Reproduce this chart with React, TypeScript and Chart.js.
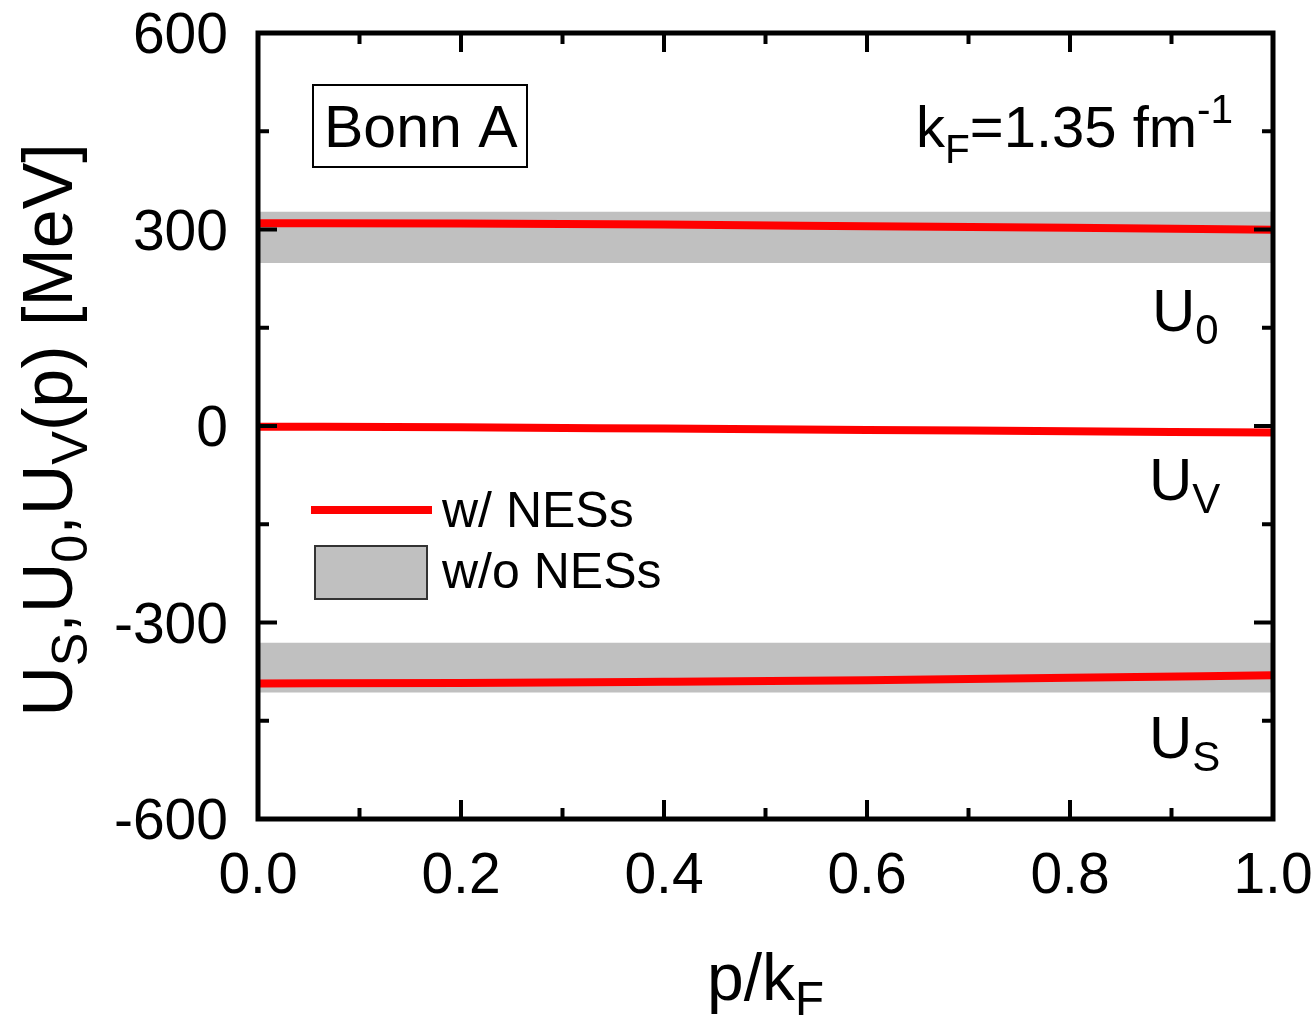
import React, { useEffect, useRef } from "react";
import { Chart, registerables } from "chart.js";

Chart.register(...registerables);

// Momentum grid p/kF
const P_GRID = [0, 0.2, 0.4, 0.6, 0.8, 1.0];

// Self-energy components with NESs (MeV)
const U0_WITH = [309.5, 309, 307.5, 305, 302.5, 299.5];
const UV_WITH = [-1, -2, -4, -6, -8, -10];
const US_WITH = [-393, -392.5, -390.5, -388, -384.5, -380.5];

// Ranges without NESs (MeV): [lower, upper]
const U0_BAND = [249, 327];
const US_BAND = [-407, -331];

// Axis ticks
const X_MAJOR = [0, 0.2, 0.4, 0.6, 0.8, 1.0];
const X_MINOR = [0.1, 0.3, 0.5, 0.7, 0.9];
const X_LABELS = ["0.0", "0.2", "0.4", "0.6", "0.8", "1.0"];
const Y_MAJOR = [-600, -300, 0, 300, 600];
const Y_MINOR = [-450, -150, 150, 450];
const Y_LABELS = ["-600", "-300", "0", "300", "600"];

const FONT = '"Liberation Sans", Arial, Helvetica, sans-serif';

type Part = { t: string; sub?: boolean; sup?: boolean };

function drawRich(
  ctx: CanvasRenderingContext2D,
  x: number,
  y: number,
  parts: Part[],
  size: number,
  align: "left" | "center" | "right",
  subScale = 0.7,
  subDrop = 0.25,
  supRise = 0.38
) {
  const measure = (p: Part) => {
    const s = p.sub || p.sup ? size * subScale : size;
    ctx.font = `${s}px ${FONT}`;
    return ctx.measureText(p.t).width;
  };
  const total = parts.reduce((a, p) => a + measure(p), 0);
  let cx = align === "left" ? x : align === "center" ? x - total / 2 : x - total;
  ctx.textAlign = "left";
  ctx.textBaseline = "alphabetic";
  for (const p of parts) {
    const s = p.sub || p.sup ? size * subScale : size;
    ctx.font = `${s}px ${FONT}`;
    const dy = p.sub ? size * subDrop : p.sup ? -size * supRise : 0;
    ctx.fillText(p.t, cx, y + dy);
    cx += ctx.measureText(p.t).width;
  }
}

const decorPlugin = {
  id: "decor",
  afterDatasetsDraw(chart: any) {
    const { ctx, chartArea, scales } = chart;
    const xs = scales.x;
    const ys = scales.y;
    const { left, right, top, bottom } = chartArea;
    ctx.save();
    ctx.fillStyle = "#000";
    ctx.strokeStyle = "#000";

    // inward ticks on all four sides
    ctx.lineWidth = 4;
    const tick = (x1: number, y1: number, x2: number, y2: number) => {
      ctx.beginPath();
      ctx.moveTo(x1, y1);
      ctx.lineTo(x2, y2);
      ctx.stroke();
    };
    X_MAJOR.forEach((v) => {
      const px = xs.getPixelForValue(v);
      tick(px, bottom, px, bottom - 19);
      tick(px, top, px, top + 19);
    });
    X_MINOR.forEach((v) => {
      const px = xs.getPixelForValue(v);
      tick(px, bottom, px, bottom - 11);
      tick(px, top, px, top + 11);
    });
    Y_MAJOR.forEach((v) => {
      const py = ys.getPixelForValue(v);
      tick(left, py, left + 19, py);
      tick(right, py, right - 19, py);
    });
    Y_MINOR.forEach((v) => {
      const py = ys.getPixelForValue(v);
      tick(left, py, left + 11, py);
      tick(right, py, right - 11, py);
    });

    // frame
    ctx.lineWidth = 5;
    ctx.strokeRect(left, top, right - left, bottom - top);

    // tick labels
    ctx.font = `57px ${FONT}`;
    ctx.textAlign = "right";
    ctx.textBaseline = "alphabetic";
    Y_MAJOR.forEach((v, i) => {
      const py = ys.getPixelForValue(v);
      ctx.fillText(Y_LABELS[i], 228, py + 20);
    });
    ctx.textAlign = "center";
    X_MAJOR.forEach((v, i) => {
      const px = xs.getPixelForValue(v);
      ctx.fillText(X_LABELS[i], px, 893);
    });

    // axis titles
    drawRich(ctx, (left + right) / 2, 1000, [{ t: "p/k" }, { t: "F", sub: true }], 66, "center", 0.72, 0.22);
    ctx.save();
    ctx.translate(72, 430);
    ctx.rotate(-Math.PI / 2);
    drawRich(
      ctx,
      0,
      0,
      [
        { t: "U" },
        { t: "S", sub: true },
        { t: ",U" },
        { t: "0", sub: true },
        { t: ",U" },
        { t: "V", sub: true },
        { t: "(p) [MeV]" },
      ],
      70,
      "center",
      0.72,
      0.22
    );
    ctx.restore();

    // model label box
    ctx.lineWidth = 2;
    ctx.strokeRect(313, 85, 214, 82);
    ctx.font = `59px ${FONT}`;
    ctx.textAlign = "left";
    ctx.fillText("Bonn A", 324, 147);

    // Fermi momentum
    drawRich(
      ctx,
      916,
      147,
      [{ t: "k" }, { t: "F", sub: true }, { t: "=1.35 fm" }, { t: "-1", sup: true }],
      58,
      "left",
      0.7,
      0.27,
      0.42
    );

    // curve labels
    drawRich(ctx, 1152, 331, [{ t: "U" }, { t: "0", sub: true }], 60, "left", 0.7, 0.22);
    drawRich(ctx, 1149, 500, [{ t: "U" }, { t: "V", sub: true }], 60, "left", 0.7, 0.22);
    drawRich(ctx, 1149, 758, [{ t: "U" }, { t: "S", sub: true }], 60, "left", 0.7, 0.22);

    // legend
    ctx.strokeStyle = "#ff0000";
    ctx.lineWidth = 8;
    ctx.lineCap = "butt";
    ctx.beginPath();
    ctx.moveTo(311, 510);
    ctx.lineTo(432, 510);
    ctx.stroke();
    ctx.fillStyle = "#c0c0c0";
    ctx.fillRect(315, 546, 112, 53);
    ctx.strokeStyle = "#333";
    ctx.lineWidth = 2;
    ctx.strokeRect(315, 546, 112, 53);
    ctx.fillStyle = "#000";
    ctx.font = `50px ${FONT}`;
    ctx.textAlign = "left";
    ctx.fillText("w/ NESs", 442, 527);
    ctx.fillText("w/o NESs", 442, 588);

    ctx.restore();
  },
};

const pts = (ys: number[]) => P_GRID.map((x, i) => ({ x, y: ys[i] }));
const flat = (v: number) => [
  { x: 0, y: v },
  { x: 1, y: v },
];

export default function App() {
  const ref = useRef<HTMLCanvasElement | null>(null);

  useEffect(() => {
    if (!ref.current) return;
    const redLine = (label: string, data: number[]) => ({
      label,
      data: pts(data),
      borderColor: "#ff0000",
      borderWidth: 8,
      borderCapStyle: "round" as const,
      pointRadius: 0,
      fill: false,
      cubicInterpolationMode: "monotone" as const,
      order: 1,
    });
    const bandEdge = (label: string, v: number, fill: any) => ({
      label,
      data: flat(v),
      borderWidth: 0,
      borderColor: "rgba(0,0,0,0)",
      backgroundColor: "#c0c0c0",
      pointRadius: 0,
      fill,
      order: 2,
    });
    const chart = new Chart(ref.current, {
      type: "line",
      data: {
        datasets: [
          bandEdge("U0 upper", U0_BAND[1], false),
          bandEdge("U0 lower", U0_BAND[0], "-1"),
          bandEdge("US upper", US_BAND[1], false),
          bandEdge("US lower", US_BAND[0], "-1"),
          redLine("U0", U0_WITH),
          redLine("UV", UV_WITH),
          redLine("US", US_WITH),
        ],
      },
      options: {
        animation: false,
        responsive: false,
        devicePixelRatio: 1,
        layout: { padding: { left: 258, right: 43, top: 33, bottom: 204 } },
        plugins: { legend: { display: false }, tooltip: { enabled: false } },
        scales: {
          x: { type: "linear", min: 0, max: 1, display: false },
          y: { type: "linear", min: -600, max: 600, display: false },
        },
      },
      plugins: [decorPlugin],
    });
    return () => chart.destroy();
  }, []);

  return (
    <div style={{ position: "fixed", left: 0, top: 0, width: 1316, height: 1023, background: "#fff" }}>
      <canvas ref={ref} width={1316} height={1023} />
    </div>
  );
}
